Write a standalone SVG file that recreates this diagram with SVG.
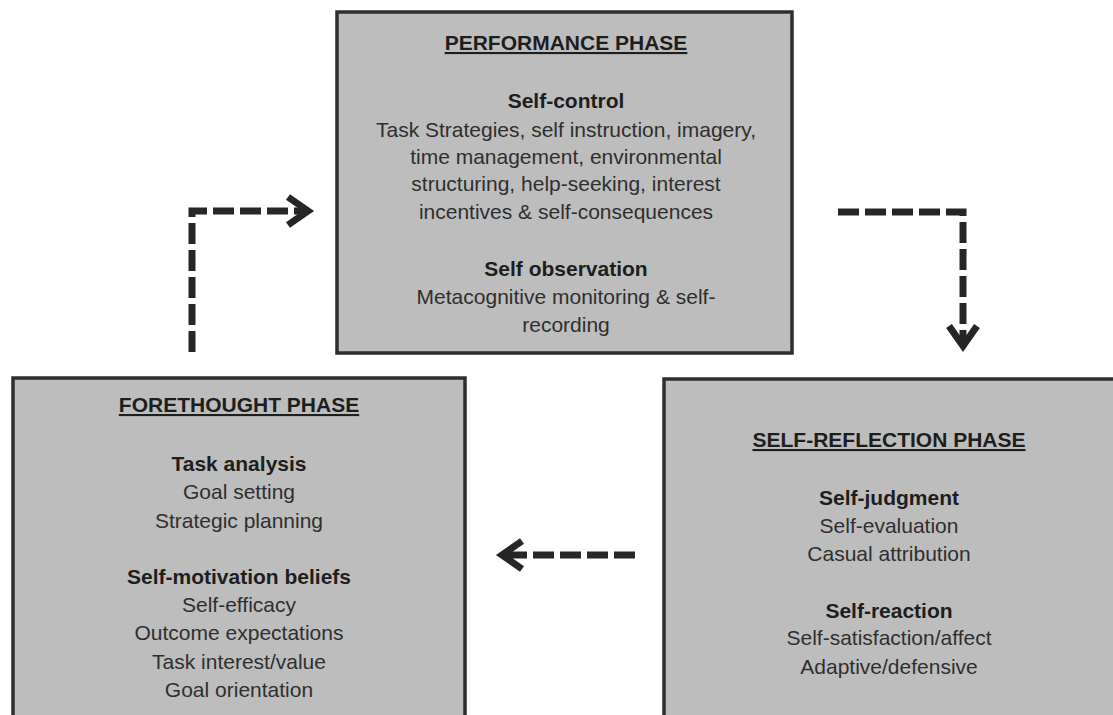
<svg xmlns="http://www.w3.org/2000/svg" width="1113" height="715" viewBox="0 0 1113 715">
<style>
.box{fill:#bdbdbd;stroke:#2e2e2e;stroke-width:3.5}
text{font-family:"Liberation Sans",Arial,sans-serif;text-anchor:middle;font-size:21px}
.title{font-weight:bold;fill:#1e1e1e;text-decoration:underline}
.head{font-weight:bold;fill:#1e1e1e}
.body{fill:#2f2f2f}
.dash{fill:none;stroke:#262626;stroke-width:7;stroke-dasharray:21 6}
.head-arrow{fill:none;stroke:#262626;stroke-width:7;stroke-linejoin:miter;stroke-linecap:butt}
</style>
<rect width="1113" height="715" fill="#ffffff"/>
<g id="performance">
<rect class="box" x="337" y="12" width="455" height="341"/>
<text class="title" x="566" y="50">PERFORMANCE PHASE</text>
<text class="head" x="566" y="108">Self-control</text>
<text class="body" x="566" y="137">Task Strategies, self instruction, imagery,</text>
<text class="body" x="566" y="164">time management, environmental</text>
<text class="body" x="566" y="191">structuring, help-seeking, interest</text>
<text class="body" x="566" y="219">incentives &amp; self-consequences</text>
<text class="head" x="566" y="276">Self observation</text>
<text class="body" x="566" y="304">Metacognitive monitoring &amp; self-</text>
<text class="body" x="566" y="332">recording</text>
</g>
<g id="forethought">
<rect class="box" x="13" y="378" width="452" height="345"/>
<text class="title" x="239" y="412">FORETHOUGHT PHASE</text>
<text class="head" x="239" y="471">Task analysis</text>
<text class="body" x="239" y="499">Goal setting</text>
<text class="body" x="239" y="528">Strategic planning</text>
<text class="head" x="239" y="584">Self-motivation beliefs</text>
<text class="body" x="239" y="612">Self-efficacy</text>
<text class="body" x="239" y="640">Outcome expectations</text>
<text class="body" x="239" y="669">Task interest/value</text>
<text class="body" x="239" y="697">Goal orientation</text>
</g>
<g id="self-reflection">
<rect class="box" x="664" y="379" width="460" height="345"/>
<text class="title" x="889" y="447">SELF-REFLECTION PHASE</text>
<text class="head" x="889" y="505">Self-judgment</text>
<text class="body" x="889" y="533">Self-evaluation</text>
<text class="body" x="889" y="561">Casual attribution</text>
<text class="head" x="889" y="618">Self-reaction</text>
<text class="body" x="889" y="645">Self-satisfaction/affect</text>
<text class="body" x="889" y="674">Adaptive/defensive</text>
</g>
<g id="connectors">
<path class="dash" d="M192 352 V211 H305"/>
<path class="head-arrow" d="M288 197 L308 211 L288 225"/>
<path class="dash" d="M838 212 H963 V340"/>
<path class="head-arrow" d="M949 326 L963 346 L977 326"/>
<path class="dash" d="M635 555 H505"/>
<path class="head-arrow" d="M522 541 L502 555 L522 569"/>
</g>
</svg>
